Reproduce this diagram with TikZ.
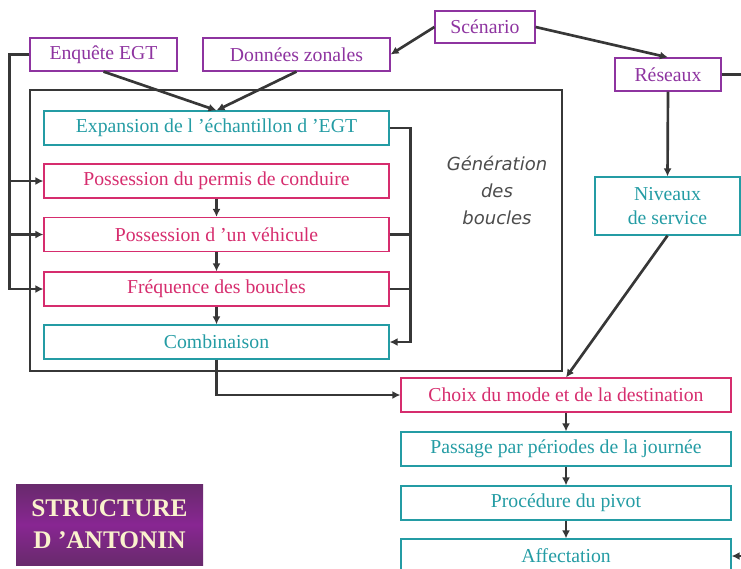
\documentclass[tikz,border=0pt]{standalone}
\usepackage{fontspec}
\setmainfont{Liberation Serif}
\newfontfamily\gensans{DejaVu Sans}
\usepackage{xcolor}
\usepackage{tikz}
\usetikzlibrary{arrows.meta}

\definecolor{purplebox}{RGB}{142,52,160}
\definecolor{tealbox}{RGB}{36,156,164}
\definecolor{pinkbox}{RGB}{214,45,110}
\definecolor{linkgray}{RGB}{55,55,55}
\definecolor{titletop}{RGB}{104,42,108}
\definecolor{titlemid}{RGB}{136,38,146}
\definecolor{titletext}{RGB}{250,242,205}

\begin{document}
\begin{tikzpicture}[x=0.75pt,y=0.75pt,yscale=-1,xscale=1,
  boxnode/.style={draw, line width=0.9pt, inner sep=0pt, align=center, font=\fontsize{14.8}{17}\selectfont},
  purplenode/.style={boxnode, draw=purplebox, text=purplebox},
  tealnode/.style={boxnode, draw=tealbox, text=tealbox},
  pinknode/.style={boxnode, draw=pinkbox, text=pinkbox},
  chainnode/.style={minimum width=258.75pt, minimum height=25.5pt},
  mainnode/.style={minimum width=247.5pt, minimum height=25.5pt},
  link/.style={draw=linkgray, line width=2pt, -{Latex[length=6pt,width=6pt]}},
  plainlink/.style={draw=linkgray, line width=2pt}]
\clip (0,0) rectangle (741,568);

%Shape: Rectangle (frame)
\draw [draw=linkgray, line width=1.2pt] (30,90) rectangle (562,371) ;

% Text Node
\node (enquete) at (103.5,54.5) [purplenode, minimum width=110.25pt, minimum height=24.75pt] {Enquête EGT};
% Text Node
\node (donnees) at (296.5,54.5) [purplenode, minimum width=140.25pt, minimum height=24.75pt] {Données zonales};
% Text Node
\node (scenario) at (485,27) [purplenode, minimum width=75pt, minimum height=24pt] {Scénario};
% Text Node
\node (reseaux) at (668,74.5) [purplenode, minimum width=79.5pt, minimum height=24.75pt] {Réseaux};
% Text Node
\node (niveaux) at (667.5,206) [tealnode, minimum width=108.75pt, minimum height=43.5pt, font=\fontsize{14.8}{17.5}\selectfont] {Niveaux\\de service};

% Text Node
\node (expansion) at (216.5,128) [tealnode, chainnode] {Expansion de l ’échantillon d ’EGT};
% Text Node
\node (permis) at (216.5,181) [pinknode, chainnode] {Possession du permis de conduire};
% Text Node
\node (vehicule) at (216.5,234.5) [pinknode, chainnode] {Possession d ’un véhicule};
% Text Node
\node (frequence) at (216.5,289) [pinknode, chainnode] {Fréquence des boucles};
% Text Node
\node (combinaison) at (216.5,342) [tealnode, chainnode] {Combinaison};
% Text Node
\node (genlabel) at (497,190) [align=center, text=black!70, font=\gensans\itshape\fontsize{13.5}{20.25}\selectfont] {Génération\\des\\boucles};

% Text Node
\node (choix) at (566,395) [pinknode, mainnode] {Choix du mode et de la destination};
% Text Node
\node (passage) at (566,449) [tealnode, mainnode] {Passage par périodes de la journée};
% Text Node
\node (pivot) at (566,503) [tealnode, mainnode] {Procédure du pivot};
% Text Node
\node (affectation) at (566,556) [tealnode, mainnode] {Affectation};

% Text Node
\node (titre) at (109.5,524.5) [minimum width=140.25pt, minimum height=60.75pt, inner sep=0pt,
  top color=titletop, bottom color=titletop, middle color=titlemid, align=center,
  text=titletext, font=\bfseries\fontsize{19}{24}\selectfont] {STRUCTURE\\D ’ANTONIN};

\coordinate (reseauxout) at (745,74.5);
\coordinate (affectationin) at (745,556);

%Straight Lines
\draw [link] (enquete.south) -- (expansion.north) ;
\draw [link] (donnees.south) -- (expansion.north) ;
\draw [link] (scenario.west) -- (donnees.east) ;
\draw [link] (scenario.east) -- (reseaux.north) ;
\draw [plainlink] (reseaux.east) -- (reseauxout) ;
\draw [link] (reseaux.south) -- (niveaux.north) ;
\draw [link] (niveaux.south) -- (choix.north) ;
\draw [link] (affectationin) -- (affectation.east) ;

%Left feed lines
\draw [link] (enquete.west) -- ++(-20,0) |- (permis.west) ;
\draw [link] (enquete.west) -- ++(-20,0) |- (vehicule.west) ;
\draw [link] (enquete.west) -- ++(-20,0) |- (frequence.west) ;

%Right return lines
\draw [link] (expansion.east) -- ++(21,0) |- (combinaison.east) ;
\draw [plainlink] (vehicule.east) -- ++(21,0) ;
\draw [plainlink] (frequence.east) -- ++(21,0) ;

%Chain
\draw [link] (permis) -- (vehicule) ;
\draw [link] (vehicule) -- (frequence) ;
\draw [link] (frequence) -- (combinaison) ;
\draw [link] (combinaison.south) |- (choix.west) ;
\draw [link] (choix) -- (passage) ;
\draw [link] (passage) -- (pivot) ;
\draw [link] (pivot) -- (affectation) ;

\end{tikzpicture}
\end{document}
